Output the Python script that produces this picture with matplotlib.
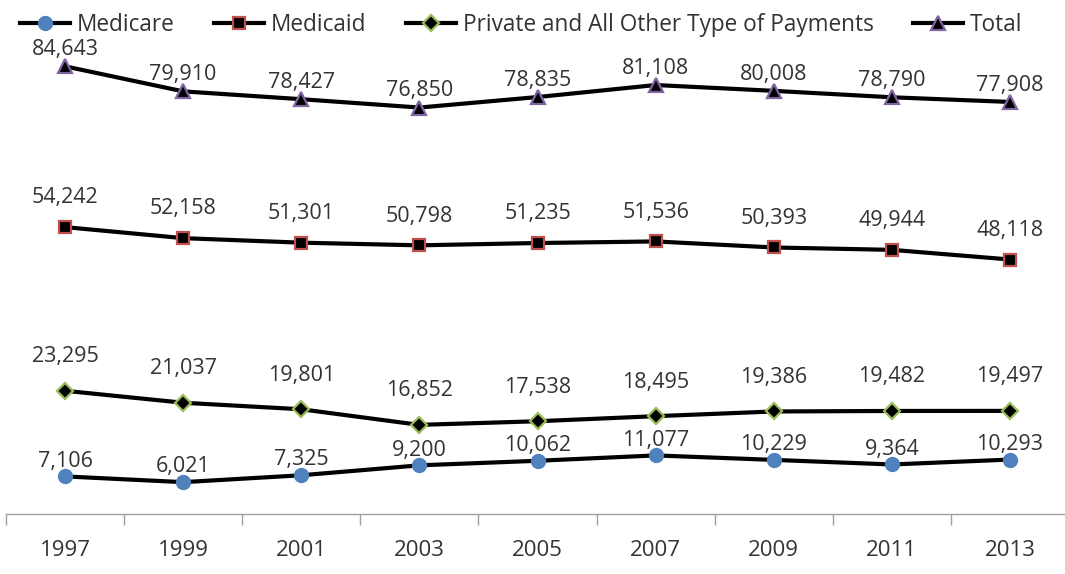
import matplotlib
matplotlib.use("Agg")
import matplotlib.pyplot as plt

years = ["1997", "1999", "2001", "2003", "2005", "2007", "2009", "2011", "2013"]
medicare = [7106, 6021, 7325, 9200, 10062, 11077, 10229, 9364, 10293]
medicaid = [54242, 52158, 51301, 50798, 51235, 51536, 50393, 49944, 48118]
private = [23295, 21037, 19801, 16852, 17538, 18495, 19386, 19482, 19497]
total = [84643, 79910, 78427, 76850, 78835, 81108, 80008, 78790, 77908]

plt.rcParams['font.family'] = ['Open Sans', 'DejaVu Sans']
W, H = 1065, 574
fig = plt.figure(figsize=(W / 100, H / 100), dpi=100)
ax = fig.add_axes([6 / W, 60 / H, 1063 / W, 476 / H])
ax.set_xlim(-0.5, len(years) - 0.5)
ax.set_ylim(0, 90000)

x = list(range(len(years)))
txt = '#333333'
series = [
    ("Medicare", medicare, dict(marker='o', ms=10, mfc='#4F81BD', mec='#4F81BD'), 11),
    ("Medicaid", medicaid, dict(marker='s', ms=9, mfc='black', mec='#C0504D', mew=1.6), 21),
    ("Private and All Other Type of Payments", private, dict(marker='D', ms=8, mfc='black', mec='#9BBB59', mew=1.6), 24.5),
    ("Total", total, dict(marker='^', ms=10, mfc='black', mec='#8064A2', mew=1.6), 12),
]
handles = []
for name, vals, mk, off in series:
    h, = ax.plot(x, vals, color='black', lw=3, label=name, clip_on=False, zorder=3, **mk)
    handles.append(h)
    for xi, v in zip(x, vals):
        ax.annotate(f"{v:,}", (xi, v), xytext=(0, off), textcoords='offset points',
                    ha='center', va='center', fontsize=15.5, color=txt)

for s in ['top', 'right', 'left']:
    ax.spines[s].set_visible(False)
ax.spines['bottom'].set_color('#A0A0A0')
ax.spines['bottom'].set_linewidth(1)
ax.set_yticks([])
ax.set_xticks(x)
ax.set_xticklabels(years, fontsize=16, color=txt)
ax.tick_params(axis='x', length=0, pad=19)
ax.set_xticks([i - 0.5 for i in range(len(years) + 1)], minor=True)
ax.tick_params(axis='x', which='minor', length=8, color='#A0A0A0', width=1, direction='out')

leg = fig.legend(handles=handles, loc='upper left', bbox_to_anchor=(9 / W, 1 - 2 / H), ncol=4,
                 frameon=False, fontsize=16.3, handlelength=2.2, handletextpad=0.3,
                 columnspacing=1.75, borderaxespad=0.1, labelcolor=txt)

fig.savefig("out.png", dpi=100)
